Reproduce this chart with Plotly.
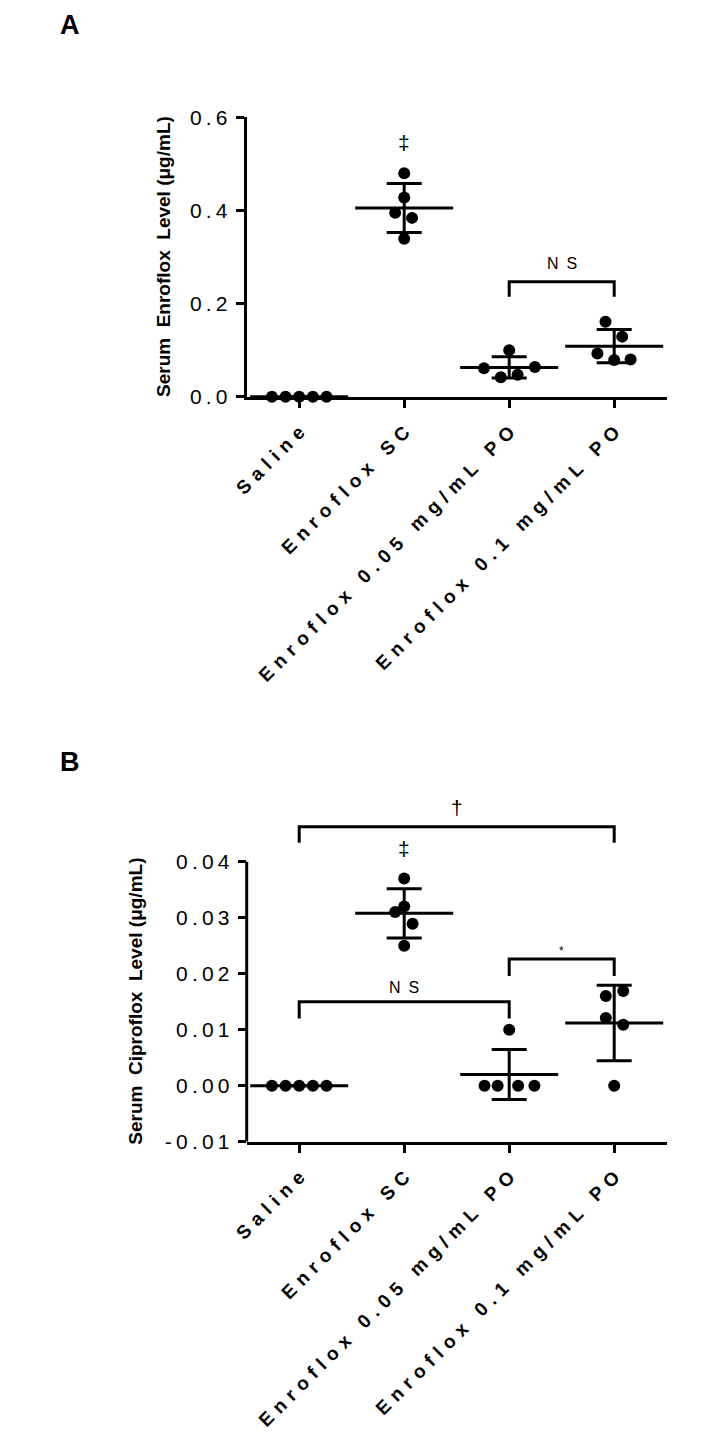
import numpy as np
import plotly.graph_objects as go

# groups (x categories)
groups = ["Saline", "Enroflox SC", "Enroflox 0.05 mg/mL PO", "Enroflox 0.1 mg/mL PO"]

# Panel A - serum enrofloxacin level (ug/mL), n = 5 per group
enro_saline = [0.0, 0.0, 0.0, 0.0, 0.0]
enro_sc = [0.480, 0.428, 0.395, 0.384, 0.339]
enro_po005 = [0.100, 0.061, 0.064, 0.042, 0.047]
enro_po01 = [0.161, 0.129, 0.093, 0.079, 0.080]

# Panel B - serum ciprofloxacin level (ug/mL)
cipro_saline = [0.0, 0.0, 0.0, 0.0, 0.0]
cipro_sc = [0.0370, 0.0320, 0.0310, 0.0289, 0.0250]
cipro_po005 = [0.0, 0.0, 0.0100, 0.0, 0.0]
cipro_po01 = [0.0160, 0.0169, 0.0121, 0.0109, 0.0]

yticks_a = [0.0, 0.2, 0.4, 0.6]
yticks_b = [-0.01, 0.0, 0.01, 0.02, 0.03, 0.04]

# horizontal spread of the dots inside each column (category units)
jitter_a = [[-0.26, -0.13, 0, 0.13, 0.26],
            [0, 0, -0.086, 0.075, 0],
            [0, -0.24, 0.245, -0.08, 0.08],
            [-0.083, 0.076, -0.16, 0, 0.156]]
jitter_b = [[-0.26, -0.13, 0, 0.13, 0.26],
            [0, 0, -0.086, 0.08, 0],
            [-0.235, -0.11, 0, 0.085, 0.24],
            [-0.08, 0.086, -0.08, 0.086, 0]]

# comparison brackets: (from group, to group, bar height, leg bottom, label, label y)
brackets_a = [(2, 3, 0.247, 0.2147, "N\u2002S", 0.2865)]
brackets_b = [(0, 3, 0.04625, 0.0434, "\u2020", 0.0497),
              (0, 2, 0.0150, 0.0120, "N\u2002S", 0.01757),
              (2, 3, 0.02263, 0.0196, "*", 0.0241)]
marks_a = [(1, "\u2021", 0.545)]
marks_b = [(1, "\u2021", 0.0423)]

FONT = "Liberation Sans, Arial, sans-serif"
W, H = 725, 1441


def spaced(s, gap):
    return gap.join(s)


fig = go.Figure()


def add_panel(data, jitter, xa, ya):
    for i, vals in enumerate(data):
        xs = [i + j for j in jitter[i]]
        fig.add_trace(go.Scatter(
            x=xs, y=vals, mode="markers", xaxis=xa, yaxis=ya,
            marker=dict(size=12, color="black"), cliponaxis=False,
            showlegend=False, hoverinfo="y"))
    means = [float(np.mean(v)) for v in data]
    sds = [float(np.std(v, ddof=1)) for v in data]
    fig.add_trace(go.Scatter(
        x=list(range(len(data))), y=means, mode="markers", xaxis=xa, yaxis=ya,
        marker=dict(symbol="line-ew", size=70, color="black",
                    line=dict(width=3, color="black")),
        error_y=dict(type="data", array=sds, visible=True, thickness=3,
                     width=17.5, color="black"),
        cliponaxis=False, showlegend=False, hoverinfo="y"))


add_panel([enro_saline, enro_sc, enro_po005, enro_po01], jitter_a, "x", "y")
add_panel([cipro_saline, cipro_sc, cipro_po005, cipro_po01], jitter_b, "x2", "y2")

shapes = []
annotations = []


def add_brackets(brackets, marks, xr, yr):
    for g0, g1, top, leg, label, ly in brackets:
        shapes.append(dict(
            type="path", xref=xr, yref=yr,
            path=f"M {g0},{leg} L {g0},{top} L {g1},{top} L {g1},{leg}",
            line=dict(color="black", width=3)))
        annotations.append(dict(
            x=(g0 + g1) / 2, y=ly, xref=xr, yref=yr, text=label, showarrow=False,
            font=dict(family=FONT, size=12 if label == "*" else (21 if label == "\u2020" else 16),
                      color="black"),
            xanchor="center", yanchor="middle"))
    for g, label, ly in marks:
        annotations.append(dict(
            x=g, y=ly, xref=xr, yref=yr, text=label, showarrow=False,
            font=dict(family=FONT, size=21, color="black"),
            xanchor="center", yanchor="middle"))


add_brackets(brackets_a, marks_a, "x", "y")
add_brackets(brackets_b, marks_b, "x2", "y2")

# y axis spine of panel B only covers the tick range (brackets sit above it)
shapes.append(dict(type="line", xref="x2 domain", yref="y2", x0=0, x1=0,
                   y0=yticks_b[0], y1=yticks_b[-1],
                   line=dict(color="black", width=3)))

# axis titles and panel letters
annotations.append(dict(
    x=163 / W, xref="paper", y=np.mean([yticks_a[0], yticks_a[-1]]), yref="y",
    text="<b>Serum\u00a0 Enroflox\u00a0 Level (\u03bcg/mL)</b>", textangle=-90,
    xanchor="center", yanchor="middle",
    showarrow=False, font=dict(family=FONT, size=19, color="black")))
annotations.append(dict(
    x=136 / W, xref="paper", y=np.mean([yticks_b[0], yticks_b[-1]]), yref="y2",
    text="<b>Serum\u00a0 Ciproflox\u00a0 Level (\u03bcg/mL)</b>", textangle=-90,
    xanchor="center", yanchor="middle",
    showarrow=False, font=dict(family=FONT, size=19, color="black")))
for letter, ypx in [("A", 25), ("B", 762)]:
    annotations.append(dict(
        x=70 / W, y=1 - ypx / H, xref="paper", yref="paper", text=f"<b>{letter}</b>",
        xanchor="center", yanchor="middle",
        showarrow=False, font=dict(family=FONT, size=27, color="black")))

xtext = [spaced(g, "\u2004") for g in groups]
xaxis_common = dict(
    range=[-0.5, 3.5], tickvals=list(range(len(groups))), ticktext=xtext,
    tickangle=-45, showline=True, linewidth=3, linecolor="black",
    ticks="outside", ticklen=8, tickwidth=3, tickcolor="black",
    showgrid=False, zeroline=False, ticklabelstandoff=6, automargin=False,
    tickfont=dict(family=FONT, size=19, color="black", weight="bold"),
    domain=[246.7 / W, 666.7 / W])
yaxis_common = dict(
    showgrid=False, zeroline=False, ticks="outside", ticklen=8, tickwidth=3,
    tickcolor="black", linewidth=3, linecolor="black", ticklabelstandoff=4,
    automargin=False, tickfont=dict(family=FONT, size=21, color="black"))

fig.update_layout(
    width=W, height=H, margin=dict(l=0, r=0, t=0, b=0, autoexpand=False),
    paper_bgcolor="white", plot_bgcolor="white", showlegend=False,
    xaxis=dict(**xaxis_common, anchor="y"),
    yaxis=dict(**yaxis_common, anchor="x", range=[0, 0.6], showline=True,
               tickvals=yticks_a,
               ticktext=[spaced(f"{v:.1f}", "\u2009") for v in yticks_a],
               domain=[1 - 396.7 / H, 1 - 117.3 / H]),
    xaxis2=dict(**xaxis_common, anchor="y2"),
    yaxis2=dict(**yaxis_common, anchor="x2", range=[-0.01, 0.052], showline=False,
                tickvals=yticks_b,
                ticktext=[spaced(f"{v:.2f}", "\u2009") for v in yticks_b],
                domain=[1 - 1141.7 / H, 1 - 794.5 / H]),
    shapes=shapes, annotations=annotations,
)

fig.write_html("out.html", config={"displayModeBar": False},
               post_script="document.body.style.margin = '0';")
